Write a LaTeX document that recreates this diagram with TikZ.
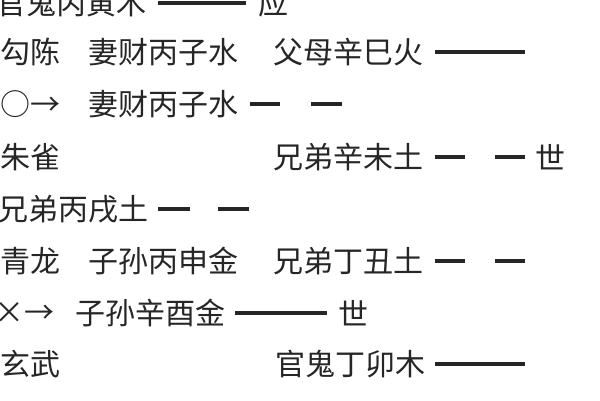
\documentclass[tikz,border=0pt]{standalone}
\usepackage{fontspec}
\newfontfamily\cjk{Noto Sans CJK SC}
\begin{document}
\begin{tikzpicture}[x=1pt,y=-1pt,
  t/.style={anchor=west,inner sep=0pt,font=\cjk\fontsize{30}{32}\selectfont,text=black!85},
  yl/.style={line width=3.2pt,black!85}]
\useasboundingbox (0,0) rectangle (600,400);
\fill[white] (0,0) rectangle (600,400);
\node[t] (r1a) at (-4,3) {官鬼丙寅木};
\coordinate (l1a) at (158,3); \coordinate (l1b) at (246,3);
\draw[yl] (l1a) -- (l1b);
\node[t] (r1b) at (258,3) {应};
% row 2
\node[t] (r2a) at (0,52) {勾陈};
\node[t] (r2b) at (88,52) {妻财丙子水};
\node[t] (r2c) at (273,52) {父母辛巳火};
\coordinate (l2a) at (435,52); \coordinate (l2b) at (525,52);
\draw[yl] (l2a) -- (l2b);
% row 3
\node[t] (r3a) at (0,104) {○→};
\node[t] (r3b) at (88,104) {妻财丙子水};
\coordinate (l3a) at (250,104); \coordinate (l3b) at (280,104);
\coordinate (l3c) at (311,104); \coordinate (l3d) at (342,104);
\draw[yl] (l3a) -- (l3b) (l3c) -- (l3d);
% row 4
\node[t] (r4a) at (0,157) {朱雀};
\node[t] (r4b) at (273,157) {兄弟辛未土};
\coordinate (l4a) at (435,157); \coordinate (l4b) at (465,157);
\coordinate (l4c) at (495,157); \coordinate (l4d) at (525,157);
\draw[yl] (l4a) -- (l4b) (l4c) -- (l4d);
\node[t] (r4c) at (535,157) {世};
% row 5
\node[t] (r5a) at (-2,209) {兄弟丙戌土};
\coordinate (l5a) at (158,209); \coordinate (l5b) at (190,209);
\coordinate (l5c) at (218,209); \coordinate (l5d) at (249,209);
\draw[yl] (l5a) -- (l5b) (l5c) -- (l5d);
% row 6
\node[t] (r6a) at (0,261) {青龙};
\node[t] (r6b) at (88,261) {子孙丙申金};
\node[t] (r6c) at (273,261) {兄弟丁丑土};
\coordinate (l6a) at (435,261); \coordinate (l6b) at (465,261);
\coordinate (l6c) at (495,261); \coordinate (l6d) at (525,261);
\draw[yl] (l6a) -- (l6b) (l6c) -- (l6d);
% row 7
\node[t] (r7a) at (-6,313) {×→};
\node[t] (r7b) at (75,313) {子孙辛酉金};
\coordinate (l7a) at (235,313); \coordinate (l7b) at (327,313);
\draw[yl] (l7a) -- (l7b);
\node[t] (r7c) at (338,313) {世};
% row 8
\node[t] (r8a) at (0,364) {玄武};
\node[t] (r8b) at (275,364) {官鬼丁卯木};
\coordinate (l8a) at (435,364); \coordinate (l8b) at (525,364);
\draw[yl] (l8a) -- (l8b);
\end{tikzpicture}
\end{document}
